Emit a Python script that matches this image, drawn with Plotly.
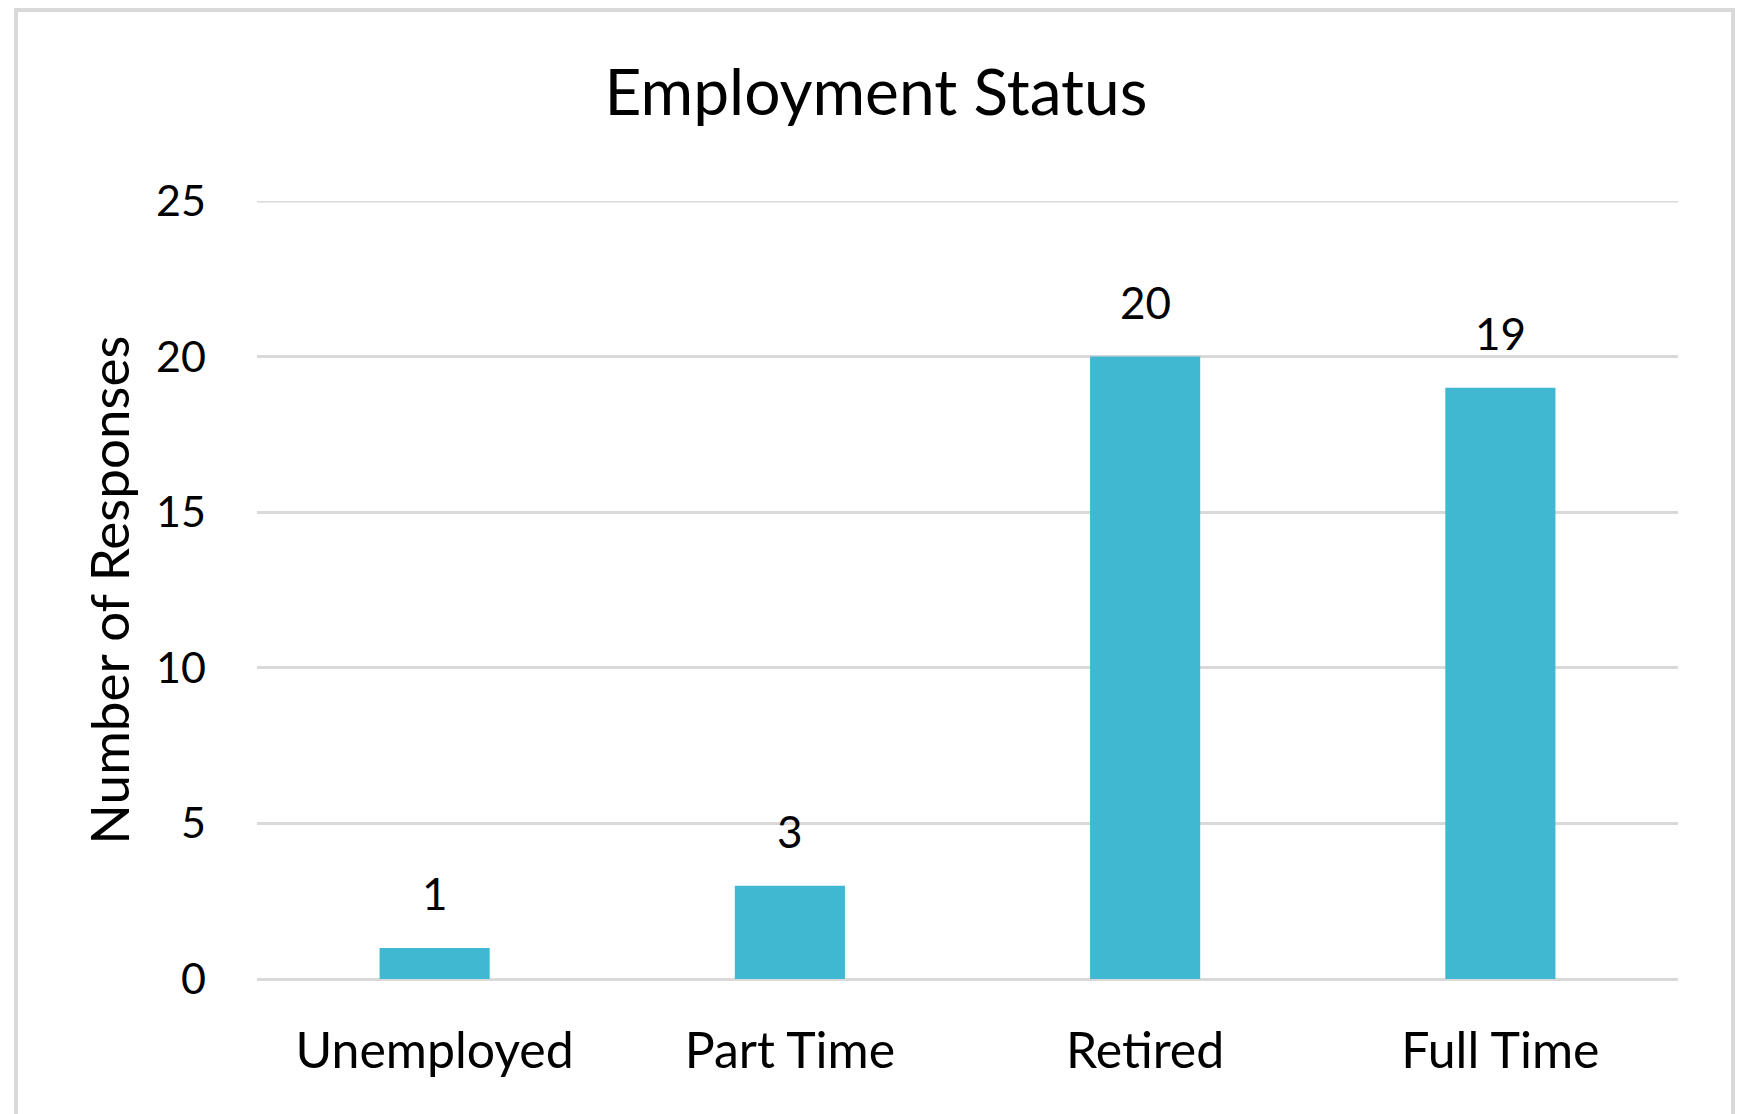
import plotly.graph_objects as go

categories = ["Unemployed", "Part Time", "Retired", "Full Time"]
responses = [1, 3, 20, 19]
y_ticks = [0, 5, 10, 15, 20, 25]

FONT = "Lato"
BAR_COLOR = "#40B8D2"
GRID = "#d9d9d9"

# page body margin offset (browser default 8px)
OFF = 8
W, H = 1749, 1114
# target plot area in screen pixels
SX0, SX1, SY0, SY1 = 257, 1678, 201, 979
L = SX0 - OFF
R = W - (SX1 - OFF)
T = SY0 - OFF
B = H - (SY1 - OFF)
pw, ph = W - L - R, H - T - B


def px(sx):
    return (sx - OFF - L) / pw


def py(sy):
    return (H - B - (sy - OFF)) / ph


fig = go.Figure()
fig.add_trace(go.Bar(
    x=categories, y=responses,
    marker=dict(color=BAR_COLOR, line=dict(width=0)),
    width=0.31, hoverinfo="skip",
))

for c, v in zip(categories, responses):
    fig.add_annotation(x=c, y=v, text=str(v), showarrow=False,
                       xref="x", yref="y", yanchor="middle", yshift=55,
                       font=dict(family=FONT, size=44, color="#000000"))

# top gridline (at the highest tick, on the range edge)
fig.add_shape(type="line", xref="paper", yref="y", x0=0, x1=1,
              y0=y_ticks[-1], y1=y_ticks[-1],
              line=dict(color=GRID, width=3), layer="below")

# chart border
fig.add_shape(type="rect", xref="paper", yref="paper",
              x0=px(16), x1=px(1733), y0=py(1140), y1=py(OFF + 2),
              line=dict(color=GRID, width=4), fillcolor="rgba(0,0,0,0)", layer="below")

fig.update_layout(
    width=W, height=H,
    margin=dict(l=L, r=R, t=T, b=B, pad=0),
    paper_bgcolor="white", plot_bgcolor="white",
    showlegend=False,
    title=dict(text="Employment Status", xref="container", yref="container",
               x=(876 - OFF) / W, xanchor="center",
               y=1 - (93 - OFF) / H, yanchor="middle",
               font=dict(family=FONT, size=64, color="#000000")),
    font=dict(family=FONT, color="#000000"),
)

fig.update_xaxes(
    showgrid=False, showline=False, zeroline=False, ticks="",
    tickfont=dict(family=FONT, size=50, color="#000000"),
    ticklabelstandoff=38,
)
fig.update_yaxes(
    range=[0, y_ticks[-1]], tickvals=y_ticks, ticktext=[str(t) for t in y_ticks],
    showgrid=True, gridcolor=GRID, gridwidth=3,
    zeroline=True, zerolinecolor=GRID, zerolinewidth=3,
    showline=False, ticks="",
    tickfont=dict(family=FONT, size=43, color="#000000"),
    ticklabelstandoff=50,
    title=dict(text="Number of Responses", standoff=9,
               font=dict(family=FONT, size=53, color="#000000")),
)

fig.write_html("out.html")
